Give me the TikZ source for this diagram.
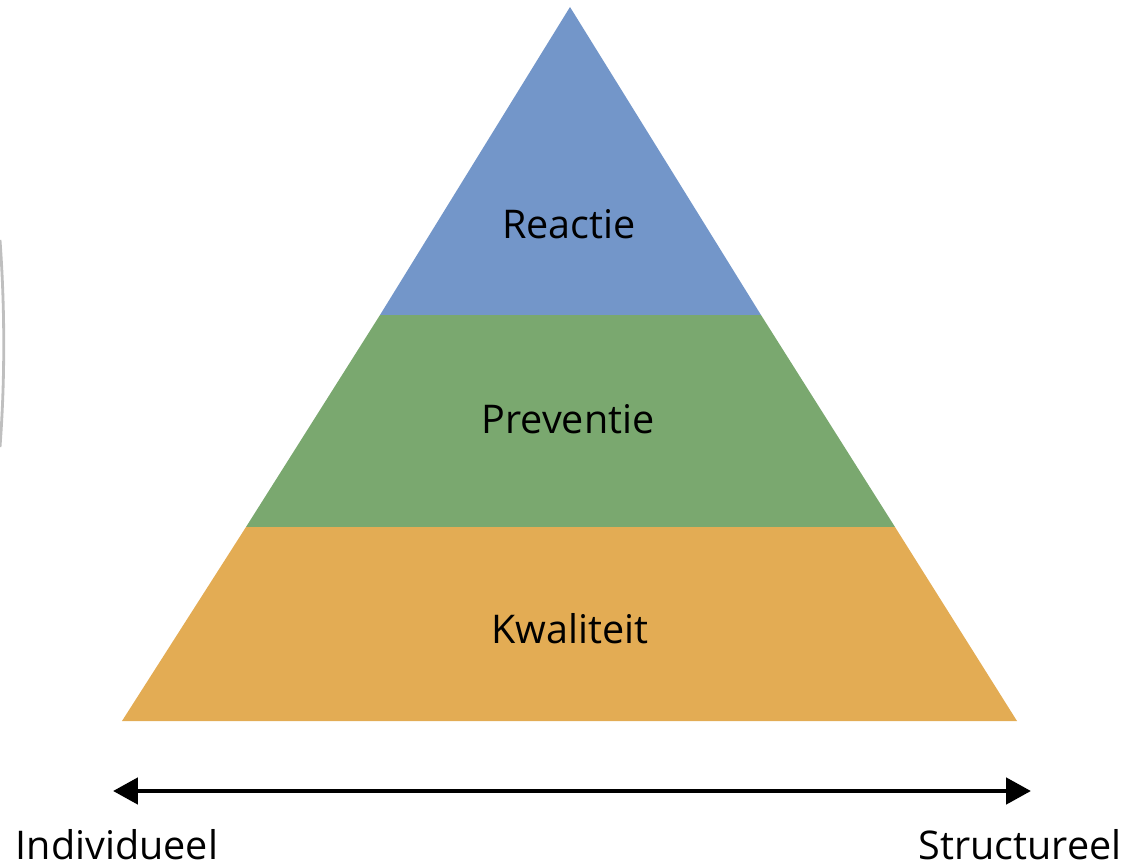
\documentclass[tikz,border=0pt]{standalone}
\usepackage{fontspec}
\setmainfont{Open Sans}
\usepackage{tikz}
\usetikzlibrary{arrows.meta}

\definecolor{reactieblue}{RGB}{115,150,201}
\definecolor{preventiegreen}{RGB}{122,168,111}
\definecolor{kwaliteitorange}{RGB}{227,172,84}

\begin{document}
\begin{tikzpicture}[x=0.02cm,y=-0.02cm]
	\useasboundingbox (0,0) rectangle (1127,865);

	% corners of the pyramid
	\coordinate (top) at (570,7);
	\coordinate (bl) at (122,721);
	\coordinate (br) at (1017,721);
	\coordinate (ml) at (380,315);
	\coordinate (mr) at (761,315);
	\coordinate (ll) at (246,527);
	\coordinate (lr) at (895,527);

	\fill[reactieblue] (top) -- (mr) -- (ml) -- cycle;
	\fill[preventiegreen] (ml) -- (mr) -- (lr) -- (ll) -- cycle;
	\fill[kwaliteitorange] (ll) -- (lr) -- (br) -- (bl) -- cycle;

	\begin{scope}[every node/.style={anchor=base,inner sep=0pt,font=\fontsize{22.5}{27}\selectfont}]
	    \node (reactie) at (569,238) {Reactie};
	    \node (preventie) at (568,433) {Preventie};
	    \node (kwaliteit) at (570,643) {Kwaliteit};
	    \node (indiv) at (117,859) {Individueel};
	    \node (struct) at (1020,859) {Structureel};
	\end{scope}

	\begin{scope}[>={Triangle[length=0.5cm,width=0.52cm]}]
	    \coordinate (al) at (113,791);
	    \coordinate (ar) at (1031,791);
	    \draw[<->,line width=2.8pt] (al) -- (ar);
	\end{scope}

	% gray edge on the left
	\coordinate (g1) at (0,240);
	\coordinate (g2) at (0,447);
	\draw[black!25,line width=1.6pt] (g1) .. controls (5,310) and (5,380) .. (g2);
\end{tikzpicture}
\end{document}
